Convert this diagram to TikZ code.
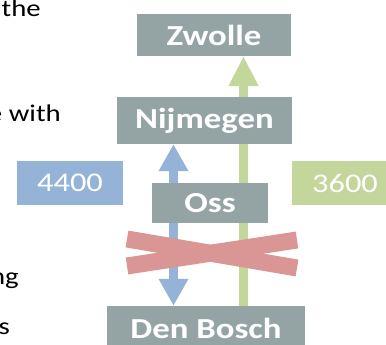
\documentclass[tikz,border=0pt]{standalone}
\usepackage{fontspec}
\setmainfont{Carlito}
\usetikzlibrary{arrows.meta}
\pgfdeclarelayer{background}
\pgfsetlayers{background,main}
\newcommand{\wide}[1]{\scalebox{1.2}[1]{#1}}

\begin{document}
\begin{tikzpicture}[x=1pt,y=1pt,
  city/.style={fill=boxColor,text=white,inner sep=0pt,
    font=\fontsize{29}{31}\selectfont\bfseries},
  count/.style={text=white,inner sep=0pt,minimum width=106pt,minimum height=44pt,
    font=\fontsize{27}{29}\selectfont},
  prose/.style={anchor=base east,inner sep=0pt,text=black,
    font=\fontsize{24}{28}\selectfont},
  flow/.style={line width=9pt},
  cross/.style={draw=crossColor,line width=17pt}]
\definecolor[named]{boxColor}{RGB}{148,164,164}
\definecolor[named]{blueColor}{RGB}{149,179,215}
\definecolor[named]{greenColor}{RGB}{195,214,155}
\definecolor[named]{crossColor}{RGB}{217,150,148}
\path[use as bounding box] (0,0) rectangle (386,345);

% text of the slide, cut off at the left
\node[prose] (line1) at (41,328) {\wide{the}};
\node[prose] (line2) at (61,223) {\wide{e with}};
\node[prose] (line3) at (19,60) {\wide{ng}};
\node[prose] (line4) at (10,10) {\wide{s}};

% stations
\node[city,minimum width=154pt,minimum height=42pt] (zwolle) at (214,310) {\wide{Zwolle}};
\node[city,minimum width=175pt,minimum height=47pt] (nijmegen) at (204.5,224.5) {\wide{Nijmegen}};
\node[city,minimum width=116pt,minimum height=40pt] (oss) at (210,142) {\wide{Oss}};
\node[city,minimum width=198pt,minimum height=44pt] (denbosch) at (206,17) {\wide{Den Bosch}};

% numbers
\node[count,fill=blueColor] (n4400) at (70,162) {\wide{4400}};
\node[count,fill=greenColor] (n3600) at (345,162) {\wide{3600}};

% routes
\coordinate (blueX) at (173.5,0);
\coordinate (greenX) at (243.5,0);
\begin{pgfonlayer}{background}
\draw[flow,draw=blueColor,fill=blueColor,
  {Triangle[width=28pt,length=27pt]}-{Triangle[width=28pt,length=27pt]}]
  (blueX |- denbosch.north) -- (blueX |- nijmegen.south);
\draw[flow,draw=greenColor,fill=greenColor,-{Triangle[width=28pt,length=30pt]}]
  (greenX |- denbosch.north) -- (greenX |- zwolle.south);
\end{pgfonlayer}

% crossed out
\draw[cross] (127,106) -- (297,77);
\draw[cross] (127,79) -- (297,105);
\end{tikzpicture}
\end{document}
